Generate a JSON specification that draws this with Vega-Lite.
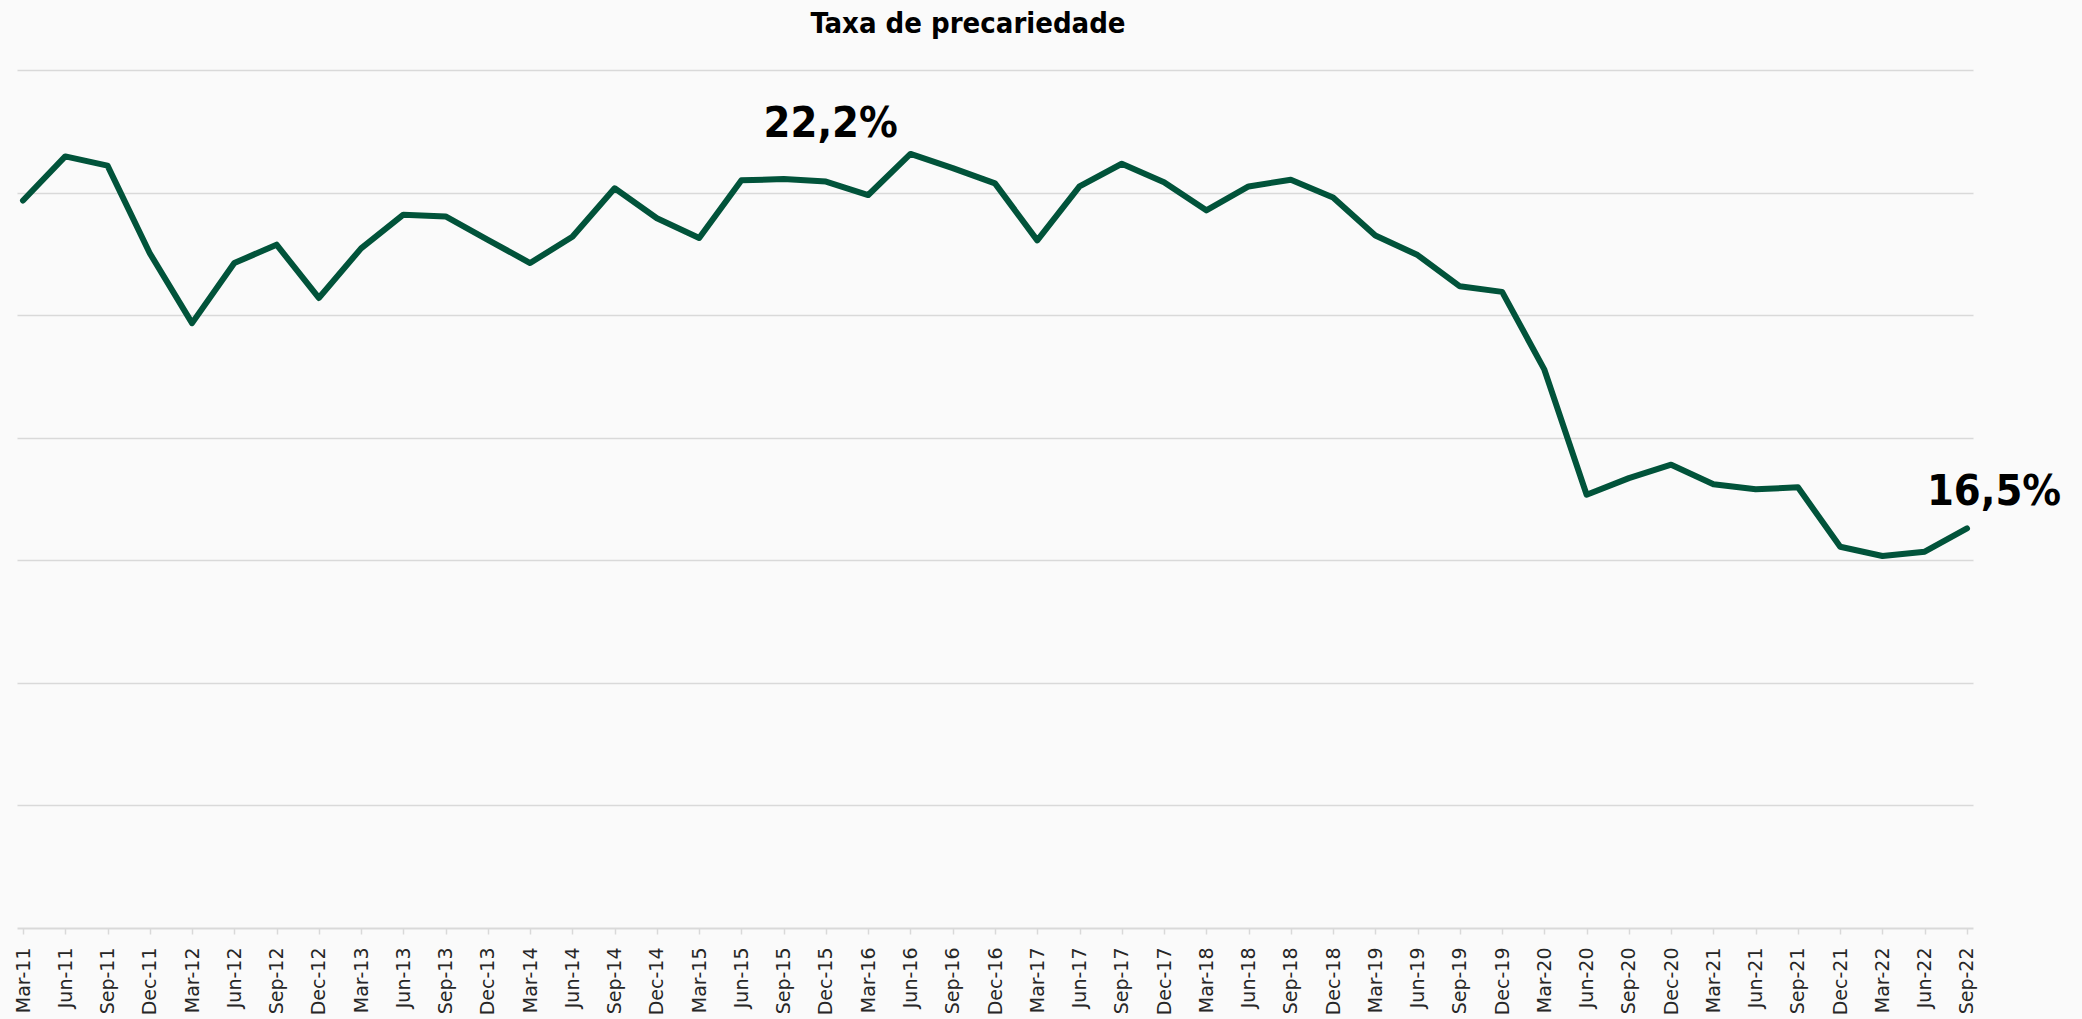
{
  "$schema": "https://vega.github.io/schema/vega-lite/v6.json",
  "width": 1956,
  "height": 858,
  "autosize": "none",
  "padding": {"left": 17, "top": 70, "right": 109, "bottom": 91},
  "background": "#fafafa",
  "title": {
    "text": "Taxa de precariedade",
    "font": "DejaVu Sans Condensed",
    "fontWeight": "bold",
    "fontSize": 29,
    "color": "#000000",
    "anchor": "middle",
    "dx": -27,
    "offset": 31
  },
  "config": {"view": {"stroke": null}},
  "data": {
    "values": [
      {"q": "Mar-11", "v": 21.87},
      {"q": "Jun-11", "v": 22.59},
      {"q": "Sep-11", "v": 22.44},
      {"q": "Dec-11", "v": 21.01},
      {"q": "Mar-12", "v": 19.87},
      {"q": "Jun-12", "v": 20.85},
      {"q": "Sep-12", "v": 21.15},
      {"q": "Dec-12", "v": 20.28},
      {"q": "Mar-13", "v": 21.09},
      {"q": "Jun-13", "v": 21.64},
      {"q": "Sep-13", "v": 21.61},
      {"q": "Dec-13", "v": 21.23},
      {"q": "Mar-14", "v": 20.85},
      {"q": "Jun-14", "v": 21.28},
      {"q": "Sep-14", "v": 22.07},
      {"q": "Dec-14", "v": 21.58},
      {"q": "Mar-15", "v": 21.26},
      {"q": "Jun-15", "v": 22.2},
      {"q": "Sep-15", "v": 22.22, "label": "22,2%"},
      {"q": "Dec-15", "v": 22.18},
      {"q": "Mar-16", "v": 21.96},
      {"q": "Jun-16", "v": 22.63},
      {"q": "Sep-16", "v": 22.4},
      {"q": "Dec-16", "v": 22.15},
      {"q": "Mar-17", "v": 21.22},
      {"q": "Jun-17", "v": 22.1},
      {"q": "Sep-17", "v": 22.47},
      {"q": "Dec-17", "v": 22.17},
      {"q": "Mar-18", "v": 21.71},
      {"q": "Jun-18", "v": 22.1},
      {"q": "Sep-18", "v": 22.21},
      {"q": "Dec-18", "v": 21.92},
      {"q": "Mar-19", "v": 21.3},
      {"q": "Jun-19", "v": 20.98},
      {"q": "Sep-19", "v": 20.47},
      {"q": "Dec-19", "v": 20.38},
      {"q": "Mar-20", "v": 19.11},
      {"q": "Jun-20", "v": 17.07},
      {"q": "Sep-20", "v": 17.34},
      {"q": "Dec-20", "v": 17.56},
      {"q": "Mar-21", "v": 17.24},
      {"q": "Jun-21", "v": 17.16},
      {"q": "Sep-21", "v": 17.19},
      {"q": "Dec-21", "v": 16.22},
      {"q": "Mar-22", "v": 16.07},
      {"q": "Jun-22", "v": 16.14},
      {"q": "Sep-22", "v": 16.52, "label": "16,5%"}
    ]
  },
  "encoding": {
    "x": {
      "field": "q",
      "type": "ordinal",
      "sort": null,
      "scale": {"type": "point", "padding": 0.142},
      "axis": {
        "title": null,
        "labelAngle": -90,
        "labelAlign": "right",
        "labelBaseline": "middle",
        "labelFont": "DejaVu Sans",
        "labelFontSize": 19,
        "labelColor": "#262626",
        "labelPadding": 13,
        "tickSize": 6,
        "tickColor": "#d9d9d9",
        "tickWidth": 1.5,
        "domainColor": "#d9d9d9",
        "domainWidth": 2,
        "grid": false,
        "labelOverlap": false
      }
    },
    "y": {
      "field": "v",
      "type": "quantitative",
      "scale": {"domain": [10, 24], "nice": false, "zero": false},
      "axis": {
        "title": null,
        "labels": false,
        "ticks": false,
        "domain": false,
        "grid": true,
        "gridColor": "#d9d9d9",
        "gridWidth": 1.5,
        "values": [12, 14, 16, 18, 20, 22, 24]
      }
    }
  },
  "layer": [
    {
      "mark": {"type": "line", "color": "#01533a", "strokeWidth": 6, "strokeCap": "round", "strokeJoin": "round"}
    },
    {
      "transform": [{"filter": "datum.q == 'Sep-15'"}],
      "mark": {"type": "text", "font": "DejaVu Sans Condensed", "fontWeight": "bold", "fontSize": 43, "align": "center", "baseline": "alphabetic", "dx": 47, "dy": -42, "color": "#000000"},
      "encoding": {"text": {"field": "label"}}
    },
    {
      "transform": [{"filter": "datum.q == 'Sep-22'"}],
      "mark": {"type": "text", "font": "DejaVu Sans Condensed", "fontWeight": "bold", "fontSize": 43, "align": "center", "baseline": "alphabetic", "dx": 27, "dy": -23, "color": "#000000"},
      "encoding": {"text": {"field": "label"}}
    }
  ]
}
